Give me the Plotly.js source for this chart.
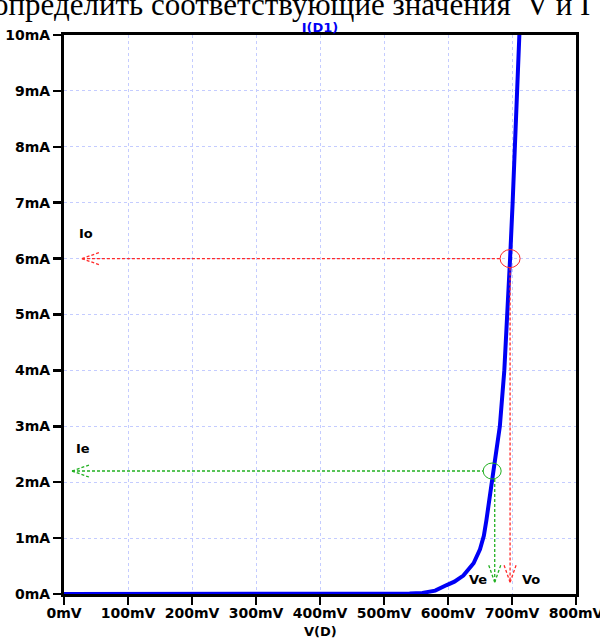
<!DOCTYPE html>
<html>
<head>
<meta charset="utf-8">
<script src="https://cdn.plot.ly/plotly-3.0.1.min.js"></script>
<style>html,body{margin:0;padding:0;background:#fff;} #chart{width:600px;height:639px;}</style>
</head>
<body>
<div id="chart"></div>
<script>
// ---- data ----
const voltage_mV = [0, 100, 200, 300, 400, 500, 540, 560, 580, 598, 610, 624, 632, 640, 650, 656, 660, 665, 671, 681, 688, 693, 697, 701, 705, 708, 711.5, 715];
const current_mA = [0, 0, 0, 0, 0, 0.002, 0.008, 0.02, 0.06, 0.16, 0.22, 0.33, 0.45, 0.55, 0.8, 1.04, 1.32, 1.7, 2.2, 3.0, 4.0, 5.0, 6.0, 7.0, 8.0, 9.0, 10.0, 11.0];

const xTickVals = [0, 100, 200, 300, 400, 500, 600, 700, 800];
const xTickText = ['0mV', '100mV', '200mV', '300mV', '400mV', '500mV', '600mV', '700mV', '800mV'];
const yTickVals = [0, 1, 2, 3, 4, 5, 6, 7, 8, 9, 10];
const yTickText = ['0mA', '1mA', '2mA', '3mA', '4mA', '5mA', '6mA', '7mA', '8mA', '9mA', '10mA'];

// operating points marked on the curve
const markNames = ['o', 'e'];
const markV = [697, 669];     // circle centres (mV)
const markI = [6, 2.2];       // circle centres (mA)
const dropV = [697, 673];     // vertical dashed drop lines (mV)
const markColors = ['#ff2a2a', '#22b022'];
const arrowTipV = [28, 12.5]; // left tip of horizontal arrows (mV)
const arrowTipI = 0.21;       // bottom tip of vertical arrows (mA)

// ---- layout geometry ----
const W = 600, H = 639, ML = 64, MR = 24, MT = 35, MB = 45;
const PW = W - ML - MR, PH = H - MT - MB;
const xRange = [0, 800], yRange = [0, 10];
const pxToMv = (xRange[1] - xRange[0]) / PW;
const pxToMa = (yRange[1] - yRange[0]) / PH;
const px = x => (x - ML) / PW;
const py = y => (H - MB - y) / PH;

const tickFont = {family: 'DejaVu Sans', size: 14, color: '#000', weight: 'bold'};
const labelFont = {family: 'DejaVu Sans', size: 13, color: '#000', weight: 'bold'};

const traces = [{
  x: voltage_mV, y: current_mA, type: 'scatter', mode: 'lines',
  line: {color: 'rgb(0,0,245)', width: 4}, hoverinfo: 'skip'
}];

const shapes = [];
const annotations = [];
const circR = [10, 9];
for (let k = 0; k < markNames.length; k++) {
  const c = markColors[k];
  const dash = {color: c, width: 1.3, dash: '3px,2px'};
  const r = circR[k];
  // circle
  shapes.push({type: 'circle', xref: 'x', yref: 'y', xsizemode: 'pixel', ysizemode: 'pixel',
    xanchor: markV[k], yanchor: markI[k], x0: -r, x1: r, y0: -r + 1, y1: r - 1,
    line: {color: c, width: 1}});
  // horizontal dashed line from arrow tip to circle edge
  shapes.push({type: 'line', xref: 'x', yref: 'y', x0: arrowTipV[k], x1: markV[k] - r * pxToMv,
    y0: markI[k], y1: markI[k], line: dash});
  // horizontal arrow head
  [6, -6].forEach(d => shapes.push({type: 'line', xref: 'x', yref: 'y', xsizemode: 'pixel', ysizemode: 'pixel',
    xanchor: arrowTipV[k], yanchor: markI[k], x0: 0, x1: 17, y0: 0, y1: d, line: dash}));
  // vertical dashed line from circle bottom to arrow tip
  shapes.push({type: 'line', xref: 'x', yref: 'y', x0: dropV[k], x1: dropV[k],
    y0: markI[k] - (r - 1) * pxToMa, y1: arrowTipI, line: dash});
  [6, -6].forEach(d => shapes.push({type: 'line', xref: 'x', yref: 'y', xsizemode: 'pixel', ysizemode: 'pixel',
    xanchor: dropV[k], yanchor: arrowTipI, x0: 0, x1: d, y0: 0, y1: 17, line: dash}));
}

// labels
const labelText = ['Io', 'Ie', 'Ve', 'Vo', 'V(D)'];
const labelPx = [[86, 233], [83, 448], [478, 579], [531, 579], [320, 631]];
labelText.forEach((t, i) => annotations.push({
  text: t, xref: 'paper', yref: 'paper', x: px(labelPx[i][0]), y: py(labelPx[i][1]),
  xanchor: 'center', yanchor: 'middle', showarrow: false, font: labelFont
}));

// cropped caption at the very top of the picture
annotations.push({
  text: 'определить соответствующие значения\u00a0 V и I', xref: 'paper', yref: 'paper',
  x: px(-9), y: py(4.5), xanchor: 'left', yanchor: 'middle', showarrow: false,
  font: {family: 'Liberation Serif', size: 31, color: '#000'}
});

const axisCommon = {
  showline: true, linecolor: '#000', linewidth: 3, mirror: true,
  showgrid: true, gridcolor: '#c4ccff', gridwidth: 1, griddash: '3px,3px',
  zeroline: false, ticks: 'outside', ticklen: 8, tickwidth: 2.5, tickcolor: '#000',
  tickfont: tickFont, tickmode: 'array', fixedrange: true, ticklabeloverflow: 'allow'
};

const layout = {
  width: W, height: H,
  margin: {l: ML, r: MR, t: MT, b: MB, pad: 0},
  paper_bgcolor: '#fff', plot_bgcolor: '#fff',
  showlegend: false,
  title: {text: 'I(D1)', x: 0.5, xref: 'paper', xanchor: 'center',
    y: 1 - 27.5 / H, yref: 'container', yanchor: 'middle',
    font: {family: 'DejaVu Sans', size: 13, color: 'rgb(0,0,245)', weight: 'bold'}},
  xaxis: Object.assign({}, axisCommon, {range: xRange, tickvals: xTickVals, ticktext: xTickText, ticklabelstandoff: -4}),
  yaxis: Object.assign({}, axisCommon, {range: yRange, tickvals: yTickVals, ticktext: yTickText}),
  shapes: shapes,
  annotations: annotations
};

Plotly.newPlot('chart', traces, layout, {staticPlot: true, displayModeBar: false});
</script>
</body>
</html>
